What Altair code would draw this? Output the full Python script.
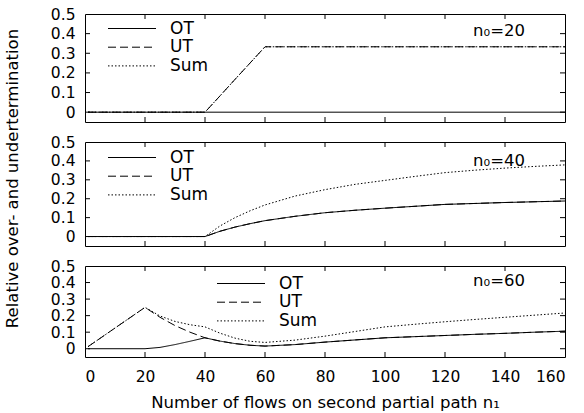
import altair as alt
import pandas as pd

FONT = "DejaVu Sans"

# ---- data ----
n1 = [1, 5, 10, 15, 20, 25, 30, 35, 40, 45, 50, 55, 60, 70, 80, 90, 100, 110, 120, 130, 140, 150, 160]

series = ["OT", "UT", "Sum"]
n0_values = [20, 40, 60]

ot_20 = [0] * 23
ut_20 = [0, 0, 0, 0, 0, 0, 0, 0, 0, 0.083, 0.167, 0.25, 0.333, 0.333, 0.333, 0.333, 0.333, 0.333, 0.333, 0.333, 0.333, 0.333, 0.333]
sum_20 = [0, 0, 0, 0, 0, 0, 0, 0, 0, 0.083, 0.167, 0.25, 0.333, 0.333, 0.333, 0.333, 0.333, 0.333, 0.333, 0.333, 0.333, 0.333, 0.333]

ot_40 = [0, 0, 0, 0, 0, 0, 0, 0, 0, 0.028, 0.05, 0.068, 0.084, 0.107, 0.126, 0.139, 0.15, 0.16, 0.17, 0.175, 0.18, 0.184, 0.188]
ut_40 = [0, 0, 0, 0, 0, 0, 0, 0, 0, 0.028, 0.05, 0.068, 0.084, 0.107, 0.126, 0.139, 0.15, 0.16, 0.17, 0.175, 0.18, 0.184, 0.188]
sum_40 = [0, 0, 0, 0, 0, 0, 0, 0, 0, 0.056, 0.1, 0.136, 0.167, 0.214, 0.248, 0.276, 0.297, 0.318, 0.338, 0.351, 0.362, 0.371, 0.379]

ot_60 = [0, 0, 0, 0, 0, 0.008, 0.025, 0.045, 0.066, 0.046, 0.031, 0.021, 0.016, 0.025, 0.04, 0.053, 0.066, 0.073, 0.08, 0.087, 0.093, 0.1, 0.106]
ut_60 = [0.0125, 0.0625, 0.125, 0.1875, 0.25, 0.19, 0.14, 0.1, 0.066, 0.046, 0.031, 0.021, 0.016, 0.025, 0.04, 0.053, 0.066, 0.073, 0.08, 0.087, 0.093, 0.1, 0.106]
sum_60 = [0.0125, 0.0625, 0.125, 0.1875, 0.25, 0.198, 0.165, 0.145, 0.132, 0.094, 0.064, 0.045, 0.038, 0.052, 0.076, 0.104, 0.132, 0.148, 0.163, 0.177, 0.19, 0.203, 0.216]

x_ticks = [0, 20, 40, 60, 80, 100, 120, 140, 160]
y_ticks = [0, 0.1, 0.2, 0.3, 0.4, 0.5]

x_title = "Number of flows on second partial path n\u2081"
y_title = "Relative over- and undertermination"

# ---- long table ----
table = {20: (ot_20, ut_20, sum_20), 40: (ot_40, ut_40, sum_40), 60: (ot_60, ut_60, sum_60)}
rows = []
for n0 in n0_values:
    for s, vals in zip(series, table[n0]):
        for x, v in zip(n1, vals):
            rows.append({"n0": n0, "series": s, "n1": x, "value": v})
df = pd.DataFrame(rows)

W = 480
TL = 5
xs = alt.Scale(domain=[0, 160], nice=False, zero=False)
ys = alt.Scale(domain=[-0.05, 0.5], nice=False, zero=False)
dash_scale = alt.Scale(domain=series, range=[[1, 0], [8, 4], [1.5, 2]])


def panel(n0, h, lx0, ltop, lab_y, bottom, with_ytitle):
    d = df[df["n0"] == n0]
    if bottom:
        xaxis = alt.Axis(values=x_ticks, ticks=False, domain=False, grid=False,
                         labelFont=FONT, labelFontSize=15.5, labelColor="black",
                         labelPadding=12, title=x_title, titleFont=FONT,
                         titleFontSize=16.5, titleFontWeight="normal", titleColor="black",
                         titlePadding=10)
    else:
        xaxis = alt.Axis(values=x_ticks, ticks=False, domain=False, grid=False,
                         labels=False, title=None)
    yargs = dict(values=y_ticks, format="~g", ticks=False, domain=False, grid=False,
                 labelFont=FONT, labelFontSize=15.5, labelColor="black", labelPadding=10)
    if with_ytitle:
        yargs.update(title=y_title, titleFont=FONT, titleFontSize=16.5,
                     titleFontWeight="normal", titleColor="black",
                     titleX=-73, titleY=36, titleBaseline="middle", titleAlign="center")
    else:
        yargs.update(title=None)
    yaxis = alt.Axis(**yargs)

    lines = alt.Chart(d).mark_line(color="black", strokeWidth=1).encode(
        x=alt.X("n1:Q", scale=xs, axis=xaxis),
        y=alt.Y("value:Q", scale=ys, axis=yaxis),
        strokeDash=alt.StrokeDash("series:N", scale=dash_scale, legend=None),
        order=alt.Order("n1:Q"),
    )

    inner_x = pd.DataFrame({"t": x_ticks[1:-1]})
    inner_y = pd.DataFrame({"t": y_ticks[:-1]})
    rule = dict(color="black", strokeWidth=1)
    xt_top = alt.Chart(inner_x).mark_rule(**rule).encode(
        x=alt.X("t:Q", scale=xs, axis=xaxis), y=alt.value(0), y2=alt.value(TL))
    xt_bot = alt.Chart(inner_x).mark_rule(**rule).encode(
        x=alt.X("t:Q", scale=xs, axis=xaxis), y=alt.value(h), y2=alt.value(h - TL))
    yt_l = alt.Chart(inner_y).mark_rule(**rule).encode(
        y=alt.Y("t:Q", scale=ys, axis=yaxis), x=alt.value(0), x2=alt.value(TL))
    yt_r = alt.Chart(inner_y).mark_rule(**rule).encode(
        y=alt.Y("t:Q", scale=ys, axis=yaxis), x=alt.value(W), x2=alt.value(W - TL))

    layers = [lines, xt_top, xt_bot, yt_l, yt_r]

    # key
    for i, s in enumerate(series):
        yy = ltop + i * 18.7
        sd = pd.DataFrame({"series": [s]})
        layers.append(alt.Chart(sd).mark_rule(color="black", strokeWidth=1).encode(
            x=alt.value(lx0), x2=alt.value(lx0 + 48), y=alt.value(yy),
            strokeDash=alt.StrokeDash("series:N", scale=dash_scale, legend=None)))
        layers.append(alt.Chart(sd).mark_text(align="left", baseline="middle", font=FONT,
                                              fontSize=17, color="black").encode(
            x=alt.value(lx0 + 62), y=alt.value(yy), text="series:N"))

    lab = pd.DataFrame({"label": [f"n\u2080={n0}"]})
    layers.append(alt.Chart(lab).mark_text(align="right", baseline="middle", font=FONT,
                                           fontSize=16.5, color="black").encode(
        x=alt.value(440), y=alt.value(lab_y), text="label:N"))

    return alt.layer(*layers).properties(width=W, height=h)


p1 = panel(20, 108, 23, 14.5, 17, False, False)
p2 = panel(40, 104, 23, 15.5, 18.5, False, True)
p3 = panel(60, 91, 132, 17.5, 15, True, False)

chart = alt.vconcat(p1, p2, p3, spacing=20, bounds="flush").properties(
    padding={"left": 3, "top": 6, "right": 0, "bottom": 2},
    background="white",
).configure_view(stroke="black", strokeWidth=1)

chart.save("out.html", embed_options={"renderer": "svg", "actions": False})
